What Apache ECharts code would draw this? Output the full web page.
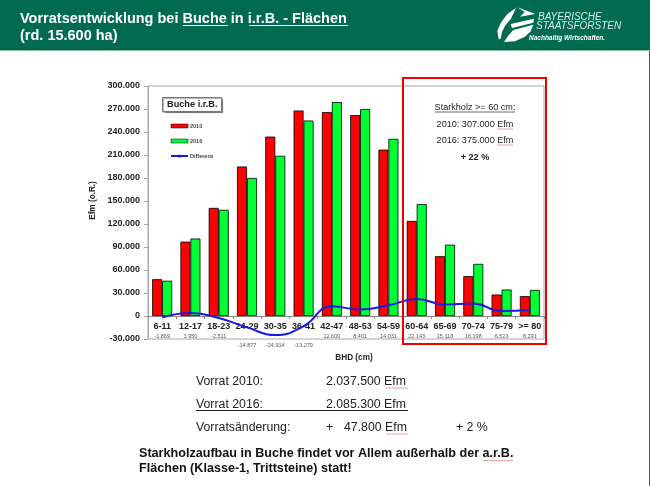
<!DOCTYPE html>
<html><head><meta charset="utf-8">
<style>html,body{margin:0;padding:0;background:#fff}#c{width:650px;height:486px}</style>
<script src="https://cdn.jsdelivr.net/npm/echarts@6/dist/echarts.min.js"></script>
</head><body><div id="c"></div>
<script>
const categories=['6-11','12-17','18-23','24-29','30-35','36-41','42-47','48-53','54-59','60-64','65-69','70-74','75-79','>= 80'];
const values2010=[48000,97000,141000,195000,234000,268000,266000,262000,217000,124000,78000,52000,28000,26000];
const values2016=[46000,101000,138500,180000,209000,255000,279000,270000,231000,146000,93000,68000,34500,34000];
const differenz=[-1869,3950,-2511,-14877,-24914,-13279,12600,8401,14031,22143,15118,16198,6523,8291];
const yTicks={min:-30000,max:300000,interval:30000};
const F='"Liberation Sans",Arial,sans-serif';
const fmt=v=>{const s=Math.abs(v).toString().replace(/\B(?=(\d{3})+$)/g,'.');return (v<0?'-':'')+s;};
const T=(x,y,text,size,o={})=>({type:'text',z:20,x,y,style:Object.assign({text,fontFamily:F,fontSize:size,fill:'#222',verticalAlign:'middle'},o)});
const L=(x1,y,x2,c='#222',w=1)=>({type:'line',z:20,shape:{x1,y1:y,x2,y2:y},style:{stroke:c,lineWidth:w}});
const P=pts=>({type:'polygon',z:20,shape:{points:pts.map(p=>[480+p[0]/3,p[1]/3])},style:{fill:'#fff'}});
const chart=echarts.init(document.getElementById('c'),null,{renderer:'canvas'});
chart.setOption({
 animation:false,backgroundColor:'#fff',
 grid:{left:148,right:106,top:86,bottom:147,show:true,borderColor:'#a8a8a8',borderWidth:1,backgroundColor:'transparent'},
 title:{text:'Buche i.r.B.',left:162,top:97,padding:[3,4,3,5],borderWidth:1,borderColor:'#777',shadowColor:'rgba(0,0,0,.35)',shadowBlur:1,shadowOffsetX:1,shadowOffsetY:1,backgroundColor:'#fff',
  textStyle:{fontFamily:F,fontSize:9.2,fontWeight:'bold',color:'#222'}},
 legend:{orient:'vertical',left:165,top:118,itemWidth:17,itemHeight:4,itemGap:9,selectedMode:false,
  textStyle:{fontFamily:F,fontSize:5.5,fontWeight:'bold',color:'#444',padding:[0,0,0,-3]},
  data:[{name:'2010',icon:'rect',itemStyle:{borderWidth:.5}},{name:'2016',icon:'rect',itemStyle:{borderWidth:.5}},{name:'Differenz'}]},
 xAxis:{type:'category',data:categories,
  axisLine:{onZero:true,lineStyle:{color:'#8a8a8a',width:1}},
  axisTick:{show:true,length:3,lineStyle:{color:'#8a8a8a'}},
  splitLine:{show:false},
  name:'BHD (cm)',nameLocation:'middle',nameGap:15,nameTextStyle:{fontFamily:F,fontSize:8.2,fontWeight:'bold',color:'#222',padding:[0,0,0,16]},
  axisLabel:{interval:0,margin:-18,fontFamily:F,hideOverlap:false,
   formatter:(v,i)=>`{c|${v}}\n{${differenz[i]<-10000?'low':'s'}|${fmt(differenz[i])}}`,
   rich:{c:{fontFamily:F,fontSize:9,fontWeight:'bold',color:'#222',lineHeight:11},
         s:{fontFamily:F,fontSize:5.5,color:'#555',lineHeight:9},
         low:{fontFamily:F,fontSize:5.5,color:'#555',lineHeight:27}}}},
 yAxis:{type:'value',min:yTicks.min,max:yTicks.max,interval:yTicks.interval,
  axisLine:{show:true,lineStyle:{color:'#a8a8a8'}},axisTick:{show:true,length:4,lineStyle:{color:'#a8a8a8'}},splitLine:{show:false},
  name:'Efm (o.R.)',nameLocation:'middle',nameGap:51,nameTextStyle:{fontFamily:F,fontSize:8.2,fontWeight:'bold',color:'#222',padding:[0,0,0,24]},
  axisLabel:{margin:8,fontFamily:F,fontSize:9,fontWeight:'bold',color:'#222',formatter:fmt}},
 series:[
  {name:'2010',type:'bar',data:values2010,barWidth:10,barGap:'0%',itemStyle:{color:'#ff0000',borderColor:'#000',borderWidth:.8}},
  {name:'2016',type:'bar',data:values2016,barWidth:10,itemStyle:{color:'#00ff33',borderColor:'#000',borderWidth:.8}},
  {name:'Differenz',type:'line',data:differenz,smooth:.5,symbol:'none',z:5,lineStyle:{color:'#1a1ae6',width:2},itemStyle:{color:'#1a1ae6'}}
 ],
 graphic:[
  {type:'rect',z:10,shape:{x:0,y:0,width:650,height:50},style:{fill:'#006b4f'}},
  L(0,50.5,650,'#8fb8a8',1),
  {type:'line',z:10,shape:{x1:649.5,y1:50,x2:649.5,y2:486},style:{stroke:'#555',lineWidth:1}},
  T(20,18.5,'Vorratsentwicklung bei Buche in i.r.B. - Flächen',14.5,{fill:'#fff',fontWeight:'bold'}),
  T(20,36,'(rd. 15.600 ha)',14.5,{fill:'#fff',fontWeight:'bold'}),
  L(183,25.5,228,'#fff',1),L(249,25.5,348,'#fff',1),
  P([[56,118],[52,92],[64,66],[82,42],[108,24],[92,58],[76,76],[66,96],[62,116]]),
  P([[112,22],[166,42],[120,50],[134,36]]),
  P([[92,72],[162,56],[160,68],[96,84]]),
  P([[72,126],[105,124],[135,110],[152,94],[160,74],[100,90],[86,106]]),
  T(538,17,'BAYERISCHE',10,{fill:'#dcebe5',fontStyle:'italic'}),
  T(536,26.5,'STAATSFORSTEN',10,{fill:'#dcebe5',fontStyle:'italic'}),
  T(529,38.5,'Nachhaltig Wirtschaften.',6.5,{fill:'#fff',fontStyle:'italic',fontWeight:'bold'}),
  {type:'rect',z:20,shape:{x:403,y:78,width:143,height:266},style:{fill:'none',stroke:'#f00000',lineWidth:2}},
  T(475,107,'Starkholz >= 60 cm:',9.1,{align:'center'}),L(435,112,515,'#444',.8),
  T(475,124,'2010: 307.000 Efm',9.1,{align:'center'}),L(497,129,513,'#e08a8a',.8),
  T(475,140,'2016: 375.000 Efm',9.1,{align:'center'}),L(497,145,513,'#e08a8a',.8),
  T(475,157,'+ 22 %',9.1,{align:'center',fontWeight:'bold'}),
  T(196,381.5,'Vorrat 2010:',12.3),T(326,381.5,'2.037.500 Efm',12.3),L(386,388,408,'#e08a8a',.8),
  T(196,404.5,'Vorrat 2016:',12.3),T(326,404.5,'2.085.300 Efm',12.3),L(196,410.5,408,'#222',1),
  T(196,427.5,'Vorratsänderung:',12.3),T(326,427.5,'+',12.3),T(344,427.5,'47.800 Efm',12.3),T(456,427.5,'+ 2 %',12.3),L(386,434,408,'#e08a8a',.8),
  T(139,453.5,'Starkholzaufbau in Buche findet vor Allem außerhalb der a.r.B.',12.6,{fontWeight:'bold',fill:'#111'}),
  T(139,468.5,'Flächen (Klasse-1, Trittsteine) statt!',12.6,{fontWeight:'bold',fill:'#111'}),
  L(483,460.5,513,'#e08a8a',.8)
 ]
});
</script></body></html>
